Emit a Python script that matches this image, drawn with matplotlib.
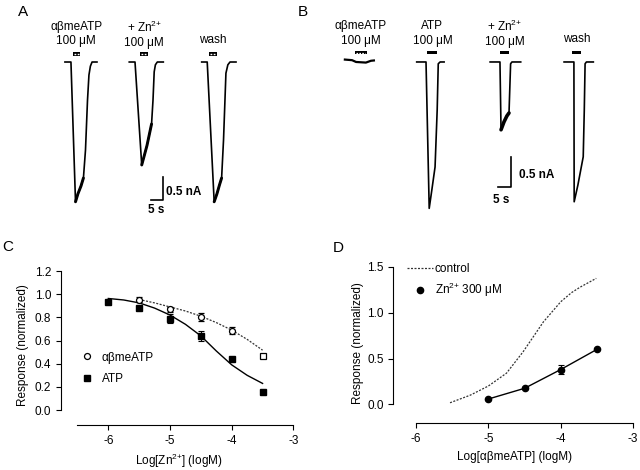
import numpy as np
import matplotlib.pyplot as plt
import matplotlib.ticker as mtick
from matplotlib.lines import Line2D

plt.rcParams['font.family'] = ['Liberation Sans', 'DejaVu Sans']
plt.rcParams['mathtext.fontset'] = 'custom'
plt.rcParams['mathtext.rm'] = 'Liberation Sans'
plt.rcParams['mathtext.default'] = 'regular'
plt.rcParams['axes.unicode_minus'] = False
plt.rcParams['font.size'] = 8.5

# PANEL A : current traces (time in s, current in nA)
a_traces = [
    ([10.4, 12.9, 14.8, 15.8, 17.1, 18.1, 18.96, 19.8, 20.4, 21.0, 21.7, 23.75],
     [0, 0, -3.0, -2.83, -2.66, -2.49, -1.89, -0.82, -0.28, -0.09, 0, 0]),
    ([37.2, 39.6, 42.4, 43.3, 44.6, 46.5, 47.1, 47.6, 48.1, 48.9, 51.4],
     [0, 0, -2.21, -2.04, -1.79, -1.33, -0.82, -0.21, -0.06, 0, 0]),
    ([67.4, 69.7, 72.6, 73.75, 74.8, 75.7, 76.5, 77.5, 78.3, 79.2, 81.7],
     [0, 0, -3.0, -2.83, -2.64, -2.49, -1.67, -0.24, -0.06, 0, 0]),
]
a_bars = [(13.6, 16.7), (41.7, 45.1), (70.5, 73.9)]
a_labels = ['αβmeATP\n100 μM', '+ Zn$^{2{+}}$\n100 μM', 'wash']

# PANEL B : current traces
b_traces = [
    ([5.6, 8.3, 9.8, 13.5, 15.4, 16.5],
     [0.04, 0.03, 0, -0.01, 0.02, 0.025]),
    ([32.6, 36.1, 37.3, 38.3, 39.5, 40.3, 40.7, 41.4, 42.9],
     [0, 0, -2.44, -2.13, -1.75, -0.8, -0.03, 0, 0]),
    ([60.2, 63.9, 64.3, 65.4, 66.5, 67.3, 67.9, 68.4, 71.7],
     [0, 0, -1.13, -1.0, -0.9, -0.85, -0.03, 0, 0]),
    ([88.0, 91.7, 91.8, 93.2, 95.2, 95.6, 95.9, 96.4, 99.0],
     [0, 0, -2.33, -2.05, -1.58, -0.8, -0.03, 0, 0]),
]
b_bars = [(9.4, 13.8), (36.6, 40.4), (63.9, 67.4), (90.9, 94.3)]
b_labels = ['αβmeATP\n100 μM', 'ATP\n100 μM', '+ Zn$^{2{+}}$\n100 μM', 'wash']

# PANEL C : Zn inhibition
logzn = [-6, -5.5, -5, -4.5, -4, -3.5]
atp = [0.934, 0.88, 0.79, 0.64, 0.437, 0.153]
atp_err = [0.02, 0.015, 0.04, 0.04, 0.01, 0.01]
logzn_ab = [-5.5, -5, -4.5, -4, -3.5]
abme = [0.954, 0.868, 0.804, 0.684, 0.468]
abme_err = [0.02, 0.025, 0.035, 0.03, 0.01]
fit_atp_x = [-6, -5.75, -5.5, -5.25, -5, -4.75, -4.5, -4.25, -4, -3.75, -3.5]
fit_atp_y = [0.963, 0.95, 0.925, 0.88, 0.82, 0.74, 0.64, 0.51, 0.39, 0.30, 0.23]
fit_ab_x = [-5.5, -5.25, -5, -4.75, -4.5, -4.25, -4, -3.75, -3.5]
fit_ab_y = [0.954, 0.925, 0.89, 0.855, 0.81, 0.755, 0.69, 0.61, 0.517]

# PANEL D : concentration-response
logab = [-5, -4.5, -4, -3.5]
zn300 = [0.058, 0.175, 0.38, 0.60]
zn300_err = [0.0, 0.0, 0.045, 0.0]
ctrl_x = [-5.53, -5.25, -5.0, -4.75, -4.52, -4.24, -4.0, -3.85, -3.73, -3.51]
ctrl_y = [0.017, 0.10, 0.20, 0.34, 0.574, 0.90, 1.12, 1.22, 1.28, 1.375]

fig = plt.figure(figsize=(6.4, 4.7), dpi=100)

# ---------------- A ----------------
axA = fig.add_axes([0.0625, 0.5426, 0.328, 0.4255])
axA.set_xlim(0, 87.5)
axA.set_ylim(-3.283, 1.009)
axA.axis('off')
for (t, cur), (t0, t1), lab in zip(a_traces, a_bars, a_labels):
    axA.plot(t, cur, color='k', lw=1.2, solid_joinstyle='round')
    axA.plot(t[2:6], cur[2:6], color='k', lw=2.1, solid_capstyle='round')
    axA.fill_between([t0, t1], 0.135, 0.205, color='k', lw=0)
    axA.plot([t0 + 0.5, t1 - 0.5], [0.17, 0.17], color='w', lw=1.0, dashes=(1.3, 1.0))
    yl = 0.60 if '\n' in lab else 0.47
    axA.text((t0 + t1) / 2, yl, lab, ha='center', va='center', fontsize=8.5,
             linespacing=1.25)
axA.plot([46.1, 51.1, 51.1], [-2.96, -2.96, -2.46], color='k', lw=1.2)
axA.text(52.5, -2.80, '0.5 nA', ha='left', va='center', fontsize=8.5, fontweight='bold')
axA.text(48.6, -3.17, '5 s', ha='center', va='center', fontsize=8.5, fontweight='bold')

# ---------------- B ----------------
axB = fig.add_axes([0.5156, 0.5426, 0.4375, 0.4255])
axB.set_xlim(0, 105.26)
axB.set_ylim(-2.55, 0.783)
axB.axis('off')
for i, ((t, cur), (t0, t1), lab) in enumerate(zip(b_traces, b_bars, b_labels)):
    axB.plot(t, cur, color='k', lw=1.2 if i else 1.6, solid_joinstyle='round')
    if i == 2:
        axB.plot(t[2:6], cur[2:6], color='k', lw=2.6, solid_capstyle='round')
    if i == 0:
        axB.fill_between([t0, t1], 0.125, 0.185, color='k', lw=0)
        axB.plot([t0 + 0.5, t1 - 0.5], [0.155, 0.155], color='w', lw=0.9, dashes=(1.3, 1.0))
    else:
        axB.fill_between([t0, t1], 0.133, 0.177, color='k', lw=0)
    yl = 0.475 if '\n' in lab else 0.39
    axB.text((t0 + t1) / 2, yl, lab, ha='center', va='center', fontsize=8.5,
             linespacing=1.25)
axB.plot([63.0, 68.0, 68.0], [-2.08, -2.08, -1.58], color='k', lw=1.2)
axB.text(71.2, -1.88, '0.5 nA', ha='left', va='center', fontsize=8.5, fontweight='bold')
axB.text(64.5, -2.30, '5 s', ha='center', va='center', fontsize=8.5, fontweight='bold')

# ---------------- C ----------------
axC = fig.add_axes([0.0953, 0.0957, 0.368, 0.340])
axC.set_xlim(-6.767, -2.95)
axC.set_ylim(-0.129, 1.25)
axC.plot(fit_atp_x, fit_atp_y, color='k', lw=1.0)
axC.plot(fit_ab_x, fit_ab_y, color='#333333', lw=0.9, dashes=(1.6, 1.2))
axC.errorbar(logzn, atp, yerr=atp_err, fmt='s', color='k', ms=4.3,
             capsize=2, elinewidth=0.8, capthick=0.8)
axC.errorbar(logzn_ab[:-1], abme[:-1], yerr=abme_err[:-1], fmt='o', color='k', mfc='white',
             mec='k', ms=4.3, mew=0.9, capsize=2, elinewidth=0.8, capthick=0.8)
axC.plot(logzn_ab[-1:], abme[-1:], 's', mfc='white', mec='k', ms=4.5, mew=0.9)
for s in ['top', 'right']:
    axC.spines[s].set_visible(False)
axC.spines['left'].set_bounds(0, 1.2)
axC.spines['bottom'].set_bounds(-6.5, -3)
axC.set_xticks([-6, -5, -4, -3])
axC.set_yticks(np.arange(0, 1.21, 0.2))
axC.yaxis.set_major_formatter(mtick.FormatStrFormatter('%.1f'))
axC.tick_params(length=3.5, width=0.8, labelsize=8.5)
axC.set_ylabel('Response (normalized)', fontsize=8.5)
axC.set_xlabel('Log[Zn$^{2{+}}$] (logM)', fontsize=8.5)
hC = [Line2D([], [], ls='none', marker='o', mfc='white', mec='k', ms=4.3, mew=0.9),
      Line2D([], [], ls='none', marker='s', color='k', ms=4.3)]
axC.legend(hC, ['αβmeATP', 'ATP'], loc='center left', bbox_to_anchor=(0.067, 0.356),
           frameon=False, fontsize=8.5, handlelength=1.0, handletextpad=0.72,
           labelspacing=0.77, borderpad=0.4, borderaxespad=0)

# ---------------- D ----------------
axD = fig.add_axes([0.6145, 0.0994, 0.3805, 0.3425])
axD.set_xlim(-6.314, -2.95)
axD.set_ylim(-0.207, 1.55)
axD.plot(ctrl_x, ctrl_y, color='#333333', lw=0.9, dashes=(1.6, 1.2))
axD.plot(logab, zn300, color='k', lw=1.0)
axD.errorbar(logab, zn300, yerr=zn300_err, fmt='o', color='k', ms=4.5,
             capsize=2, elinewidth=0.8, capthick=0.8)
for s in ['top', 'right']:
    axD.spines[s].set_visible(False)
axD.spines['left'].set_bounds(0, 1.5)
axD.spines['bottom'].set_bounds(-6, -3)
axD.set_xticks([-6, -5, -4, -3])
axD.set_yticks([0, 0.5, 1.0, 1.5])
axD.yaxis.set_major_formatter(mtick.FormatStrFormatter('%.1f'))
axD.tick_params(length=3.5, width=0.8, labelsize=8.5)
axD.set_ylabel('Response (normalized)', fontsize=8.5, labelpad=2)
axD.set_xlabel('Log[αβmeATP] (logM)', fontsize=8.5)
hD = [Line2D([], [], color='#333333', lw=0.9, dashes=(1.6, 1.2)),
      Line2D([], [], ls='none', marker='o', color='k', ms=4.5)]
axD.legend(hD, ['control', 'Zn$^{2{+}}$ 300 μM'], loc='center left',
           bbox_to_anchor=(0.038, 0.882), frameon=False, fontsize=8.5,
           handlelength=2.15, handletextpad=0.2, labelspacing=0.49,
           borderpad=0.4, borderaxespad=0)

# panel letters
fig.text(23 / 640, 1 - 12 / 470, 'A', fontsize=11, ha='center', va='center')
fig.text(303 / 640, 1 - 12 / 470, 'B', fontsize=11, ha='center', va='center')
fig.text(8 / 640, 1 - 247 / 470, 'C', fontsize=11, ha='center', va='center')
fig.text(338 / 640, 1 - 248 / 470, 'D', fontsize=11, ha='center', va='center')

fig.savefig('out.png', dpi=100)
